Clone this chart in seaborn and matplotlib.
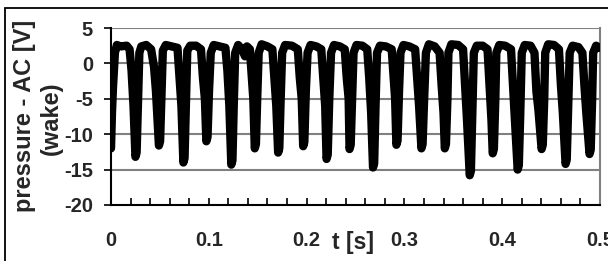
import matplotlib
matplotlib.use("Agg")
import matplotlib.pyplot as plt
import matplotlib.patches as mpatches
from matplotlib.ticker import MultipleLocator
import seaborn as sns
import pandas as pd

# vertices of the wake pressure trace (t in s, p in V)
t_s = [
    0.000, 0.001, 0.002, 0.004, 0.006,
    0.010, 0.016, 0.019, 0.021, 0.023, 0.0250, 0.0262, 0.0275, 0.029,
    0.031, 0.036, 0.041, 0.044, 0.046, 0.0490, 0.0502, 0.0515, 0.053,
    0.056, 0.062, 0.068, 0.070, 0.072, 0.0740, 0.0752, 0.0768, 0.078,
    0.081, 0.087, 0.092, 0.094, 0.096, 0.0975, 0.0987, 0.1002, 0.102,
    0.105, 0.111, 0.117, 0.119, 0.121, 0.1230, 0.1242, 0.1255, 0.127,
    0.130, 0.134, 0.137, 0.139, 0.142, 0.144, 0.1455, 0.1470, 0.1482, 0.1495, 0.151,
    0.154, 0.160, 0.165, 0.167, 0.169, 0.1709, 0.1721, 0.1735, 0.175,
    0.178, 0.185, 0.191, 0.193, 0.195, 0.1965, 0.1977, 0.1992, 0.201,
    0.204, 0.210, 0.215, 0.217, 0.219, 0.2204, 0.2216, 0.2232, 0.225,
    0.228, 0.234, 0.239, 0.241, 0.243, 0.2439, 0.2451, 0.2465, 0.248,
    0.251, 0.257, 0.262, 0.264, 0.266, 0.2679, 0.2691, 0.2705, 0.272,
    0.275, 0.281, 0.287, 0.289, 0.2905, 0.2918, 0.2930, 0.2945, 0.296,
    0.299, 0.305, 0.311, 0.313, 0.315, 0.3174, 0.3186, 0.3202, 0.322,
    0.325, 0.331, 0.336, 0.338, 0.340, 0.3413, 0.3425, 0.3440, 0.345,
    0.348, 0.355, 0.360, 0.362, 0.364, 0.3668, 0.3680, 0.3695, 0.371,
    0.374, 0.380, 0.385, 0.387, 0.389, 0.3903, 0.3915, 0.3930, 0.394,
    0.397, 0.403, 0.409, 0.411, 0.413, 0.4158, 0.4170, 0.4185, 0.420,
    0.423, 0.429, 0.433, 0.435, 0.437, 0.4403, 0.4415, 0.4430, 0.444,
    0.447, 0.453, 0.458, 0.460, 0.462, 0.4648, 0.4660, 0.4675, 0.469,
    0.472, 0.478, 0.482, 0.484, 0.486, 0.4893, 0.4905, 0.4920, 0.493,
    0.496, 0.4995,
]
p_wake = [
    -12.0, -7.0, -3.5, 1.5, 2.6,
    2.4, 2.5, 2.0, -1.0, -6.0, -13.2, -12.6, -6.0, 1.5,
    2.4, 2.6, 2.0, -0.5, -4.0, -11.6, -11.0, -5.0, 1.8,
    2.6, 2.4, 2.2, -2.0, -6.0, -14.0, -13.4, -5.0, 1.8,
    2.5, 2.5, 2.0, -2.0, -5.0, -11.0, -10.4, -4.0, 1.5,
    2.6, 2.4, 2.2, -1.0, -6.0, -14.3, -13.7, -6.0, 1.5,
    2.6, 2.0, 1.0, 2.4, 2.0, -2.0, -5.0, -12.0, -11.4, -5.0, 1.5,
    2.7, 2.4, 2.0, -2.0, -6.0, -12.6, -12.0, -5.0, 1.5,
    2.6, 2.5, 2.0, -2.0, -5.0, -11.7, -11.1, -4.0, 1.5,
    2.6, 2.4, 2.0, -2.0, -6.0, -13.5, -12.9, -5.0, 1.5,
    2.6, 2.4, 2.0, -2.0, -5.0, -12.1, -11.5, -5.0, 1.5,
    2.6, 2.5, 2.0, -2.0, -7.0, -14.7, -14.1, -6.0, 1.5,
    2.5, 2.4, 2.0, -2.0, -5.0, -11.5, -10.9, -4.0, 1.5,
    2.6, 2.4, 2.0, -2.0, -6.0, -12.0, -11.4, -5.0, 1.5,
    2.7, 2.4, 1.5, -3.0, -7.0, -12.0, -11.4, -5.0, 1.5,
    2.7, 2.6, 2.0, -3.0, -8.0, -15.8, -15.2, -7.0, 1.5,
    2.5, 2.5, 2.0, -3.0, -8.0, -12.7, -12.1, -5.0, 1.5,
    2.6, 2.5, 2.0, -3.0, -8.0, -15.0, -14.4, -7.0, 1.5,
    2.6, 2.5, 1.5, -4.0, -6.5, -12.1, -11.5, -5.0, 1.5,
    2.7, 2.6, 2.0, -3.0, -7.0, -14.2, -13.6, -6.0, 1.5,
    2.5, 2.3, 1.5, -3.0, -7.0, -12.8, -12.2, -5.0, 1.5,
    2.5, 2.2,
]

x_ticks = [0, 0.1, 0.2, 0.3, 0.4, 0.5]
x_ticklabels = ["0", "0.1", "0.2", "0.3", "0.4", "0.5"]
y_ticks = [5, 0, -5, -10, -15, -20]

sns.set_theme(style="white")
plt.rcParams["font.family"] = ["Liberation Sans", "DejaVu Sans"]
plt.rcParams["font.weight"] = "bold"
plt.rcParams["axes.unicode_minus"] = False

df = pd.DataFrame({"t": t_s, "p": p_wake})

fig = plt.figure(figsize=(6.08, 2.61), dpi=100)
ax = fig.add_axes([111 / 608, 56 / 261, 489 / 608, 177 / 261])

for v in y_ticks[:-1]:
    ax.axhline(v, color="#808080", lw=1.5, zorder=1)

sns.lineplot(data=df, x="t", y="p", sort=False, estimator=None,
             color="black", lw=6, ax=ax, zorder=3)
ax.lines[-1].set_solid_joinstyle("round")
ax.lines[-1].set_solid_capstyle("round")

ax.set_xlim(0, 0.5)
ax.set_ylim(-20, 5)
ax.set_xticks(x_ticks)
ax.set_xticklabels(x_ticklabels)
ax.xaxis.set_minor_locator(MultipleLocator(0.02))
ax.set_yticks(y_ticks)
ax.set_xlabel("")
ax.set_ylabel("")

for s in ["left", "bottom"]:
    ax.spines[s].set_color("black")
    ax.spines[s].set_linewidth(1.5)
ax.spines["top"].set_visible(False)
ax.spines["right"].set_color("#808080")
ax.spines["right"].set_linewidth(1.5)

ax.tick_params(axis="x", which="both", direction="in", length=5, width=1.2,
               color="black", pad=19, labelsize=14.5, bottom=True)
ax.tick_params(axis="y", direction="out", length=5, width=1.2,
               color="black", pad=8, labelsize=14.5, left=True)

fig.text(25 / 608, 1 - 116 / 261, "pressure - AC [V]", rotation=90,
         ha="center", va="center", fontsize=17, fontweight="bold")
fig.text(51 / 608, 1 - 118 / 261, "(wake)", rotation=90,
         ha="center", va="center", fontsize=17, fontweight="bold")
fig.text(353 / 608, 1 - 242 / 261, "t [s]", ha="center", va="center",
         fontsize=16.5, fontweight="bold")
fig.text(20 / 608, 1.025, "(a)", ha="center", va="center", fontsize=11)

fig.patches.append(mpatches.Rectangle((5 / 608, -0.1), 1.2, 253 / 261 + 0.1,
                                      transform=fig.transFigure, fill=False,
                                      ec="black", lw=1.3))

fig.savefig("out.png", dpi=100)
